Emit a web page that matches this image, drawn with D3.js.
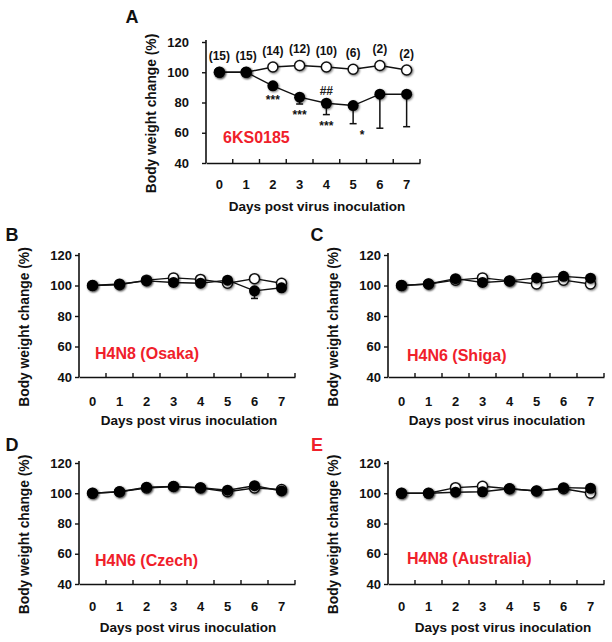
<!DOCTYPE html>
<html><head><meta charset="utf-8">
<script src="https://cdn.jsdelivr.net/npm/d3@7"></script>
<style>
body{margin:0;background:#fff;}
svg{display:block;font-family:"Liberation Sans",Arial,sans-serif;font-weight:bold;}
</style></head>
<body>
<svg id="chart" width="612" height="642"></svg>
<script>
const days = [0,1,2,3,4,5,6,7];
const yTicks = [40,60,80,100,120];

const aControl = [100,100,103.5,104.5,103.5,102,104.5,101.5];
const aInfected = [100,100,91,83.5,79.5,78,85.5,85.5];
const aInfectedErr = [0,0,1.5,4.5,7.5,12,22.5,21.5];
const aCounts = ["(15)","(15)","(14)","(12)","(10)","(6)","(2)","(2)"];
const aStars = ["","","***","***","***","*","",""];
const aHash = ["","","","","##","","",""];

const bControl = [100,100.5,103.5,105,104,101.5,104.5,101.5];
const bInfected = [100,101,103,102,101.5,103.5,96.5,98.5];
const bInfectedErr = [0,0,0,0,0,0,5,0];

const cControl = [100,101,103.5,105,103,101,103.5,101];
const cInfected = [100,101,104.5,102,103,105,106,104.8];
const cInfectedErr = [0,0,0,0,0,0,0,0];

const dControl = [100,101,103.5,104.5,103.5,101,103.5,102.5];
const dInfected = [100,101,104,104.5,103.7,102,105,101.5];
const dInfectedErr = [0,0,0,0,0,0,0,0];

const eControl = [100,100,103.7,104.6,103,101.5,103,100];
const eInfected = [100,100,100.7,101,103,101.5,103.7,103.3];
const eInfectedErr = [0,0,0,0,0,0,0,0];

const panelLetters = ["A","B","C","D","E"];
const strainLabels = ["6KS0185","H4N8 (Osaka)","H4N6 (Shiga)","H4N6 (Czech)","H4N8 (Australia)"];
const xTitle = "Days post virus inoculation";
const yTitle = "Body weight change (%)";

const RED = "#f0202a";
const svg = d3.select("#chart");

const defs = svg.append("defs");
const f = defs.append("filter").attr("id","sh").attr("x","-50%").attr("y","-50%").attr("width","200%").attr("height","200%");
f.append("feGaussianBlur").attr("in","SourceAlpha").attr("stdDeviation",1.2).attr("result","b");
f.append("feOffset").attr("in","b").attr("dx",0.8).attr("dy",1.2).attr("result","o");
f.append("feComponentTransfer").attr("in","o").attr("result","o2")
  .append("feFuncA").attr("type","linear").attr("slope",0.55);
const m = f.append("feMerge");
m.append("feMergeNode").attr("in","o2");
m.append("feMergeNode").attr("in","SourceGraphic");

const panels = [
  {letter:0, ctrl:aControl, inf:aInfected, err:aInfectedErr, x0:206,x1:420,yT:42,yB:163, tickPad:13,
   letterPos:[132,23], labelPos:[223,143], xLabDy:21, xTitleX:317, counts:aCounts, stars:aStars, hash:aHash},
  {letter:1, ctrl:bControl, inf:bInfected, err:bInfectedErr, x0:79,x1:295,yT:255,yB:377, tickPad:3,
   letterPos:[12,241], labelPos:[95,359], xLabDy:24, xTitleX:189},
  {letter:2, ctrl:cControl, inf:cInfected, err:cInfectedErr, x0:388,x1:604,yT:255,yB:377, tickPad:3,
   letterPos:[317,241], labelPos:[407,361], xLabDy:24, xTitleX:497},
  {letter:3, ctrl:dControl, inf:dInfected, err:dInfectedErr, x0:79,x1:295,yT:463,yB:584, tickPad:3,
   letterPos:[12,451], labelPos:[95,566], xLabDy:22, xTitleX:188},
  {letter:4, ctrl:eControl, inf:eInfected, err:eInfectedErr, x0:388,x1:604,yT:463,yB:584, tickPad:3,
   letterPos:[317,451], labelPos:[407,564], xLabDy:22, xTitleX:503, redLetter:true}
];

panels.forEach(p => {
  const g = svg.append("g");
  const x = d3.scaleBand().domain(days).range([p.x0,p.x1]).padding(0);
  const cx = d => x(d) + x.bandwidth()/2;
  const y = d3.scaleLinear().domain([40,120]).range([p.yB,p.yT]);

  // y axis
  const ya = g.append("g").attr("transform",`translate(${p.x0},0)`)
    .call(d3.axisLeft(y).tickValues(yTicks).tickSize(4).tickSizeOuter(0).tickPadding(p.tickPad));
  ya.select(".domain").attr("stroke","#111").attr("stroke-width",1.6)
    .attr("d",`M0,${p.yT-2}V${p.yB}`);
  ya.selectAll(".tick line").attr("stroke","#111").attr("stroke-width",1.4);
  ya.selectAll(".tick text").attr("font-size",13).attr("fill","#111")
    .attr("font-family","'Liberation Sans',Arial,sans-serif").attr("font-weight","bold");

  // x axis
  const xa = g.append("g").attr("transform",`translate(0,${p.yB})`)
    .call(d3.axisBottom(x).tickSize(0).tickPadding(p.xLabDy - 4));
  xa.select(".domain").attr("stroke","#111").attr("stroke-width",1.6);
  xa.selectAll(".tick text").attr("font-size",13).attr("fill","#111")
    .attr("font-family","'Liberation Sans',Arial,sans-serif").attr("font-weight","bold");
  const bounds = days.slice(1).map(d => x(d)).concat([p.x1]);
  g.selectAll(".xb").data(bounds).enter().append("line")
    .attr("x1",d=>d).attr("x2",d=>d).attr("y1",p.yB).attr("y2",p.yB-4)
    .attr("stroke","#111").attr("stroke-width",1.4);

  // titles
  g.append("text").attr("x",p.xTitleX).attr("y",p.yB+48).attr("text-anchor","middle")
    .attr("font-size",13.5).attr("fill","#111").text(xTitle);
  const ymid = (p.yT+p.yB)/2 + 11;
  g.append("text").attr("transform",`translate(${p.x0-50},${ymid}) rotate(-90)`)
    .attr("text-anchor","middle").attr("font-size",13.8).attr("fill","#111").text(yTitle);

  g.append("text").attr("x",p.letterPos[0]).attr("y",p.letterPos[1]).attr("text-anchor","middle")
    .attr("font-size",18).attr("fill",p.redLetter?RED:"#111").text(panelLetters[p.letter]);
  g.append("text").attr("x",p.labelPos[0]).attr("y",p.labelPos[1])
    .attr("font-size",16).attr("fill",RED).text(strainLabels[p.letter]);

  const line = d3.line().x((v,i)=>cx(days[i])).y(v=>y(v));
  g.append("path").attr("d",line(p.ctrl)).attr("fill","none").attr("stroke","#111").attr("stroke-width",1.4);
  g.append("path").attr("d",line(p.inf)).attr("fill","none").attr("stroke","#111").attr("stroke-width",1.4);

  // error bars (lower)
  const eb = days.map((d,i)=>({d, v:p.inf[i], e:p.err[i]})).filter(o=>o.e>0);
  g.selectAll(".eb").data(eb).enter().append("line")
    .attr("x1",o=>cx(o.d)).attr("x2",o=>cx(o.d)).attr("y1",o=>y(o.v)).attr("y2",o=>y(o.v-o.e))
    .attr("stroke","#111").attr("stroke-width",1.5);
  g.selectAll(".ec").data(eb).enter().append("line")
    .attr("x1",o=>cx(o.d)-3.5).attr("x2",o=>cx(o.d)+3.5).attr("y1",o=>y(o.v-o.e)).attr("y2",o=>y(o.v-o.e))
    .attr("stroke","#111").attr("stroke-width",1.5);

  // markers
  g.selectAll(".oc").data(p.ctrl).enter().append("circle")
    .attr("cx",(v,i)=>cx(days[i])).attr("cy",v=>y(v)).attr("r",5)
    .attr("fill","#fff").attr("stroke","#111").attr("stroke-width",1.5).attr("filter","url(#sh)");
  g.selectAll(".fc").data(p.inf).enter().append("circle")
    .attr("cx",(v,i)=>cx(days[i])).attr("cy",v=>y(v)).attr("r",5.5)
    .attr("fill","#000").attr("filter","url(#sh)");

  if (p.counts) {
    g.selectAll(".cnt").data(p.counts).enter().append("text")
      .attr("x",(t,i)=>cx(days[i])).attr("y",(t,i)=>y(p.ctrl[i])-12)
      .attr("text-anchor","middle").attr("font-size",12).attr("fill","#111").text(t=>t);
    g.selectAll(".st").data(p.stars).enter().append("text")
      .attr("x",(t,i)=>cx(days[i]) + (t==="*"?9:0))
      .attr("y",(t,i)=>y(p.inf[i]-Math.max(p.err[i],2))+15)
      .attr("text-anchor","middle").attr("font-size",12).attr("fill","#111").text(t=>t);
    g.selectAll(".hs").data(p.hash).enter().append("text")
      .attr("x",(t,i)=>cx(days[i])).attr("y",(t,i)=>y(p.inf[i])-8)
      .attr("text-anchor","middle").attr("font-size",12).attr("fill","#222").text(t=>t);
  }
});
</script>
</body></html>
